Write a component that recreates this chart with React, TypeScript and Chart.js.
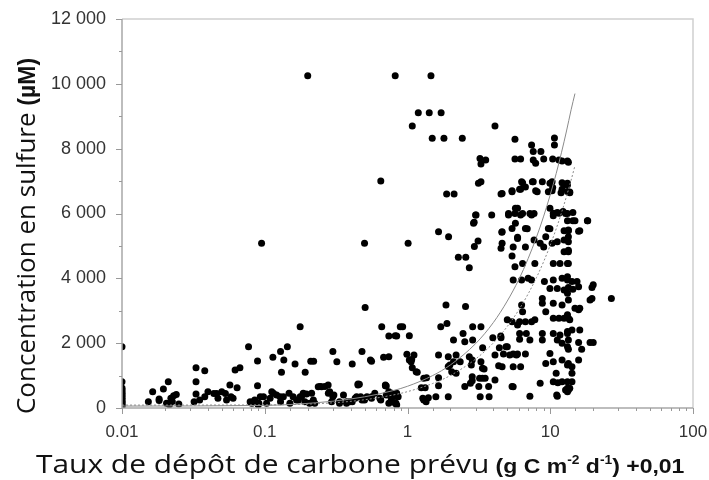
import { useEffect, useRef } from "react";
import { Chart, registerables } from "chart.js";
Chart.register(...registerables);

// x tick labels (log axis, powers of ten) and y tick labels
const xTickLabels = ["0.01", "0.1", "1", "10", "100"];
const yTickLabels = ["0", "2 000", "4 000", "6 000", "8 000", "10 000", "12 000"];

// observations: [carbon deposition + 0.01, sulfide concentration]
const band001: [number, number][] = [
  [0.01, 40], [0.01, 80], [0.01, 120], [0.01, 160], [0.01, 200], [0.01, 250], [0.01, 300],
  [0.01, 350], [0.01, 400], [0.01, 450], [0.01, 500], [0.01, 560], [0.01, 620], [0.01, 810], [0.01, 1890],
];

const bandLow: [number, number][] = [
  [0.0153, 195], [0.0164, 503], [0.0182, 280], [0.0182, 230], [0.0195, 586], [0.0211, 810],
  [0.0205, 150], [0.0215, 100], [0.022, 300], [0.023, 380], [0.024, 420], [0.0225, 200], [0.025, 120],
  [0.032, 195], [0.033, 430], [0.033, 810], [0.033, 1245], [0.038, 1150], [0.038, 350], [0.040, 500], [0.035, 250],
  [0.044, 450], [0.046, 450], [0.047, 300], [0.050, 500], [0.053, 450], [0.054, 250], [0.057, 710], [0.058, 350],
  [0.062, 1170], [0.067, 1245], [0.064, 625], [0.060, 300],
  [0.077, 1890], [0.089, 1450], [0.089, 690], [0.079, 195], [0.083, 164], [0.085, 247], [0.090, 93],
  [0.093, 350], [0.098, 350], [0.095, 5080], [0.081, 144], [0.091, 144],
];

const bandMid: [number, number][] = [
  [0.114, 1565], [0.129, 1740], [0.144, 1890], [0.136, 1480], [0.131, 1100], [0.163, 1360], [0.192, 1100],
  [0.21, 1440], [0.22, 1440], [0.177, 2510], [0.30, 1740], [0.32, 1430], [0.41, 1360], [0.48, 1740],
  [0.55, 1480], [0.56, 1440], [0.66, 2510], [0.74, 2220], [0.84, 2220], [0.68, 1565], [0.74, 1580],
  [0.89, 2510], [0.46, 730], [0.70, 690], [0.50, 5080], [0.505, 3100], [0.65, 7000], [0.82, 10250], [0.2, 10250],
  [0.112, 504], [0.115, 452], [0.128, 350], [0.129, 195], [0.135, 350], [0.148, 452], [0.150, 144],
  [0.158, 350], [0.172, 247], [0.181, 350], [0.186, 452], [0.191, 195], [0.213, 452], [0.219, 247],
  [0.224, 144], [0.285, 504], [0.294, 195], [0.305, 401], [0.334, 195], [0.356, 401], [0.375, 195],
  [0.395, 195], [0.44, 350], [0.45, 710], [0.48, 247], [0.52, 350], [0.56, 350], [0.59, 452], [0.64, 300],
  [0.70, 710], [0.71, 401], [0.78, 452], [0.82, 144], [0.84, 452],
  [0.103, 144], [0.109, 300], [0.121, 400], [0.167, 247], [0.177, 350], [0.196, 430], [0.206, 144],
  [0.244, 660], [0.264, 660], [0.237, 658], [0.25, 658], [0.278, 710], [0.279, 453], [0.30, 350],
  [0.334, 144], [0.374, 144], [0.43, 300], [0.47, 350],
  [0.41, 195], [0.50, 247], [0.56, 300], [0.65, 247], [0.74, 503], [0.74, 400], [0.77, 247], [0.79, 350],
  [0.83, 144], [0.86, 350], [0.74, 144], [0.71, 680], [0.85, 350], [0.84, 93], [0.45, 740],
];

const bandOne: [number, number][] = [
  [1.46, 10250], [1.19, 9110], [1.42, 9110], [1.72, 9110], [1.08, 8700], [4.10, 8700], [1.49, 8320],
  [1.80, 8320], [2.42, 8320], [3.22, 7700], [3.53, 7650], [3.27, 7530], [3.14, 6930], [3.27, 6980],
  [1.88, 6600], [2.12, 6600], [4.52, 6600], [3.02, 5950], [3.89, 5950], [2.93, 5730], [4.58, 5420],
  [1.65, 5440], [1.94, 5285], [1.01, 5080], [3.12, 5150], [2.94, 4980], [4.52, 4930], [2.27, 4650],
  [2.56, 4650], [2.71, 4330], [1.86, 3180], [2.55, 3130],
  [0.925, 2510], [0.82, 2230], [1.03, 2230], [1.71, 2510], [1.89, 2610], [2.86, 2510], [3.27, 2510],
  [2.45, 2300], [2.10, 2100], [2.86, 2100], [3.96, 2170], [4.52, 2170], [3.36, 1860], [0.99, 1660],
  [1.11, 1635], [1.03, 1480], [1.06, 1430], [1.65, 1635], [1.93, 1580], [2.19, 1635], [2.10, 1430],
  [2.34, 1430], [1.98, 1330], [1.93, 1280], [2.71, 1580], [2.84, 1480], [2.80, 1330], [1.08, 1245],
  [1.17, 1100], [2.04, 1120], [2.19, 1070], [3.27, 1430], [3.35, 1225], [3.44, 1200], [4.10, 1635],
  [4.40, 1860], [4.35, 1305], [1.07, 1500], [1.15, 1120], [2.52, 2045],
  [1.30, 916], [1.36, 935], [1.25, 626], [1.33, 626], [1.65, 935], [1.65, 690], [1.93, 350], [1.58, 350],
  [1.30, 250], [1.35, 195], [1.40, 318], [1.28, 300], [2.84, 965], [2.84, 840], [2.76, 760], [2.52, 660],
  [3.16, 660], [3.20, 916], [3.35, 916], [3.5, 916], [3.70, 660], [4.10, 865], [3.23, 350], [3.73, 350],
  [4.5, 2220], [4.9, 1890],
];

const bandFive: [number, number][] = [
  [5.66, 8290], [7.4, 8110], [7.6, 7910], [8.6, 7910], [5.66, 7680], [6.2, 7680], [7.6, 7650],
  [7.9, 7550], [9.0, 7680], [6.3, 6980], [7.6, 6980], [8.8, 6980], [6.7, 6820], [6.1, 6745], [5.4, 6700],
  [4.6, 6620], [7.9, 6700], [9.95, 6930], [5.9, 6160], [5.66, 6000], [6.4, 6000], [7.2, 6000], [7.7, 6000],
  [5.1, 6000], [9.95, 6160], [5.4, 5540], [6.7, 5540], [5.9, 5230], [4.6, 5440], [4.6, 5080], [5.5, 4970],
  [6.7, 4970], [7.7, 5180], [9.3, 5280], [9.7, 5540], [5.4, 4690], [8.5, 5080], [9.0, 4970],
  [5.4, 6670], [6.2, 6750], [6.4, 6950], [7.5, 6980], [8.1, 6670], [9.7, 6670], [3.0, 5950], [2.9, 5700],
  [5.1, 5950], [5.7, 6160], [6.2, 5950], [7.4, 5950], [5.7, 5700], [6.9, 5530], [9.95, 5530], [5.9, 5270],
  [5.66, 4360], [6.4, 4460], [7.8, 4460], [6.3, 3950], [5.5, 3950], [7.4, 3950], [7.0, 4000], [9.1, 3900],
  [9.95, 3690], [8.8, 3380], [8.8, 3230], [9.3, 2970], [6.3, 3180], [6.4, 2970], [6.1, 2660], [6.7, 2660],
  [7.4, 2660], [7.8, 2720], [5.9, 2560], [5.0, 2720], [5.4, 2660], [6.1, 2300], [6.8, 2300], [8.8, 2300],
  [7.2, 2100], [8.8, 2100], [6.1, 2120], [5.0, 1890], [5.5, 1665], [5.9, 1665], [6.7, 1665], [4.7, 1665],
  [9.95, 1685], [9.3, 1375], [4.6, 1275], [5.5, 1275], [6.2, 1275], [5.5, 655], [8.5, 760], [7.2, 365],
  [5.2, 1635], [5.8, 1635], [5.4, 660],
];

const bandTen: [number, number][] = [
  [10.7, 8330], [10.7, 8110], [10.4, 7680], [11.5, 7650], [12.1, 7620], [13.2, 7620], [10.4, 6800],
  [10.3, 6700], [12.1, 6950], [12.1, 6745], [13.2, 6880], [13.2, 6680], [10.5, 6010], [11.5, 6010],
  [12.3, 6060], [12.8, 6000], [10.5, 5930], [10.3, 5080], [11.2, 5130], [12.5, 5180], [12.5, 4820],
  [13.4, 4820], [10.3, 6980], [11.9, 6640], [13.7, 6640], [12.7, 6900], [11.2, 6030], [14.4, 6030],
  [14.4, 5780], [12.5, 5470], [13.4, 5470], [15.8, 5450], [18.2, 5780],
  [10.5, 4460], [11.7, 4460], [13.2, 4460], [10.5, 3950], [12.1, 4000], [13.2, 3950], [11.2, 3690],
  [12.5, 3640], [13.2, 3540], [10.5, 3230], [12.1, 3180], [10.5, 2770], [11.5, 2770], [12.5, 2770],
  [13.4, 2770], [10.5, 2300], [11.7, 2250], [13.2, 2300], [11.2, 2100], [12.1, 2000], [13.2, 1890],
  [10.5, 1430], [12.1, 1480], [13.2, 1325], [11.0, 1070], [12.1, 810], [13.2, 810], [10.5, 810], [11.2, 365],
  [13.4, 7580], [13.2, 6930], [13.7, 6660], [13.2, 6000], [14.9, 5780], [18.3, 5780], [13.2, 5780],
  [13.4, 5490], [16.1, 5470], [13.4, 5280], [13.4, 5130], [13.4, 4870],
  [13.4, 4460], [13.2, 4050], [14.2, 3900], [15.4, 3900], [15.8, 3740], [13.4, 3720], [14.4, 3660],
  [20, 3800], [19.6, 3720], [19.0, 3330], [19.6, 3380], [26.8, 3380], [13.4, 3330], [14.9, 3080],
  [15.8, 3030], [16.1, 3080], [13.2, 2880], [13.7, 2720], [14.2, 2410], [16.1, 2410], [13.2, 2360],
  [13.4, 2100], [15.8, 2020], [19, 2020], [20, 2020], [16.6, 1810], [13.4, 1810], [15.8, 1480],
  [13.4, 1375], [14.2, 1275], [14.2, 1070], [14.2, 810], [13.4, 555], [13.2, 500],
  [11.1, 400], [11.3, 780], [13.2, 608], [13.7, 608], [12.8, 555],
];

// fitted trend lines
const trendSolid: [number, number][] = [
  [0.01, 60], [0.1, 80], [0.3, 210], [0.5, 345], [0.79, 535], [1, 670], [1.5, 1000], [2, 1330],
  [3, 1985], [4, 2640], [5, 3300], [6, 3950], [7, 4610], [8, 5265], [9, 5920], [10, 6580],
  [11, 7230], [12, 7890], [13, 8545], [14, 9200], [14.9, 9700],
];
const trendDotted: [number, number][] = [
  [0.01, 90], [0.1, 95], [0.3, 160], [0.5, 255], [0.79, 400], [1, 505], [1.5, 755], [2, 1005],
  [3, 1510], [4, 2010], [5, 2515], [6, 3015], [7, 3520], [8, 4020], [9, 4520], [10, 5025],
  [11, 5525], [12, 6030], [13, 6530], [14, 7030], [14.9, 7480],
];

const isPow10 = (v: number) => Math.abs(Math.log10(v) - Math.round(Math.log10(v))) < 1e-6;

const zeroPad = (s: any) => {
  s.paddingTop = 0;
  s.paddingBottom = 0;
  s.paddingLeft = 0;
  s.paddingRight = 0;
};

const decor = {
  id: "decor",
  afterDraw(chart: any) {
    const { ctx, chartArea: a, scales } = chart;
    const xs = scales.x;
    const ys = scales.y;
    ctx.save();
    // light frame (top and right)
    ctx.strokeStyle = "#d0d0d0";
    ctx.lineWidth = 1.5;
    ctx.beginPath();
    ctx.moveTo(a.left, a.top);
    ctx.lineTo(a.right, a.top);
    ctx.lineTo(a.right, a.bottom);
    ctx.stroke();
    // axes
    ctx.strokeStyle = "#a8a8a8";
    ctx.lineWidth = 1.5;
    ctx.beginPath();
    ctx.moveTo(a.left, a.top);
    ctx.lineTo(a.left, a.bottom);
    ctx.lineTo(a.right, a.bottom);
    ctx.stroke();
    // tick marks
    ctx.lineWidth = 1;
    ctx.strokeStyle = "#999999";
    ctx.beginPath();
    xs.ticks.forEach((t: any) => {
      const p = Math.round(xs.getPixelForValue(t.value)) + 0.5;
      const len = isPow10(t.value) ? 6 : 3;
      ctx.moveTo(p, a.bottom);
      ctx.lineTo(p, a.bottom + len);
    });
    ys.ticks.forEach((t: any) => {
      const p = Math.round(ys.getPixelForValue(t.value)) + 0.5;
      const len = t.value % 2000 === 0 ? 6 : 3;
      ctx.moveTo(a.left, p);
      ctx.lineTo(a.left - len, p);
    });
    ctx.stroke();

    // titles
    ctx.fillStyle = "#111";
    ctx.textBaseline = "alphabetic";
    ctx.textAlign = "left";
    const family = "'Open Sans', 'DejaVu Sans', sans-serif";
    const bfam = "'Liberation Sans', Arial, sans-serif";
    const drawSegs = (segs: { t: string; f: string; dy?: number }[], x0: number, y0: number) => {
      let cx = x0;
      segs.forEach((s) => {
        ctx.font = s.f;
        ctx.fillText(s.t, cx, y0 + (s.dy || 0));
        cx += ctx.measureText(s.t).width;
      });
    };
    const measure = (segs: { t: string; f: string }[]) =>
      segs.reduce((w, s) => {
        ctx.font = s.f;
        return w + ctx.measureText(s.t).width;
      }, 0);

    // y title
    const ySegs = [
      { t: "Concentration en sulfure ", f: `26px ${family}` },
      { t: "(µM)", f: `bold 23px ${bfam}` },
    ];
    const yw = measure(ySegs);
    ctx.save();
    ctx.translate(35, 236);
    ctx.rotate(-Math.PI / 2);
    drawSegs(ySegs, -yw / 2, 0);
    ctx.restore();

    // x title (slightly widened, as in the original figure)
    const xSegs = [
      { t: "Taux de dépôt de carbone prévu", f: `26px ${family}` },
      { t: " (g C m", f: `bold 20px ${bfam}` },
      { t: "-2", f: `bold 12px ${bfam}`, dy: -9 },
      { t: " d", f: `bold 20px ${bfam}` },
      { t: "-1", f: `bold 12px ${bfam}`, dy: -9 },
      { t: ") +0,01", f: `bold 20px ${bfam}` },
    ];
    ctx.save();
    ctx.translate(36, 473);
    ctx.scale(1.15, 1);
    drawSegs(xSegs, 0, 0);
    ctx.restore();
    ctx.restore();
  },
};

export default function App() {
  const ref = useRef<HTMLCanvasElement | null>(null);
  useEffect(() => {
    document.body.style.margin = "0";
    const canvas = ref.current!;
    const points = [...band001, ...bandLow, ...bandMid, ...bandOne, ...bandFive, ...bandTen].map(([x, y]) => ({ x, y }));
    const chart = new Chart(canvas, {
      type: "scatter",
      data: {
        datasets: [
          {
            label: "Sulfure",
            data: points,
            pointRadius: 3.5,
            pointBackgroundColor: "#000",
            pointBorderWidth: 0,
            order: 2,
          },
          {
            label: "Tendance 1",
            data: trendSolid.map(([x, y]) => ({ x, y })),
            showLine: true,
            pointRadius: 0,
            borderColor: "#8a8a8a",
            borderWidth: 1,
            cubicInterpolationMode: "monotone",
            order: 1,
          } as any,
          {
            label: "Tendance 2",
            data: trendDotted.map(([x, y]) => ({ x, y })),
            showLine: true,
            pointRadius: 0,
            borderColor: "#8a8a8a",
            borderWidth: 1,
            borderDash: [2, 2],
            cubicInterpolationMode: "monotone",
            order: 1,
          } as any,
        ],
      },
      options: {
        animation: false,
        responsive: false,
        maintainAspectRatio: false,
        layout: { padding: { left: 0, right: 16, top: 19, bottom: 0 } },
        plugins: { legend: { display: false }, tooltip: { enabled: false } },
        scales: {
          x: {
            type: "logarithmic",
            min: 0.01,
            max: 100,
            grid: { display: false, drawTicks: false },
            border: { display: false },
            ticks: {
              autoSkip: false,
              maxRotation: 0,
              padding: 14,
              color: "#333",
              font: { family: "'Liberation Sans', Arial, sans-serif", size: 17 },
              callback: (v: any) => {
                const n = Number(v);
                if (!isPow10(n)) return "";
                const i = Math.round(Math.log10(n)) + 2;
                return xTickLabels[i] ?? "";
              },
            },
            afterFit: (s: any) => {
              s.height = 72;
              zeroPad(s);
            },
          },
          y: {
            min: 0,
            max: 12000,
            grid: { display: false, drawTicks: false },
            border: { display: false },
            ticks: {
              stepSize: 1000,
              autoSkip: false,
              padding: 16,
              color: "#333",
              font: { family: "'Liberation Sans', Arial, sans-serif", size: 18 },
              callback: (v: any) => {
                const n = Number(v);
                if (n % 2000 !== 0) return "";
                return yTickLabels[n / 2000] ?? "";
              },
            },
            afterFit: (s: any) => {
              s.width = 122;
              zeroPad(s);
            },
          },
        },
      },
      plugins: [decor],
    });
    return () => chart.destroy();
  }, []);
  return (
    <div style={{ width: 709, height: 480 }}>
      <canvas ref={ref} width={709} height={480} style={{ width: 709, height: 480 }} />
    </div>
  );
}
